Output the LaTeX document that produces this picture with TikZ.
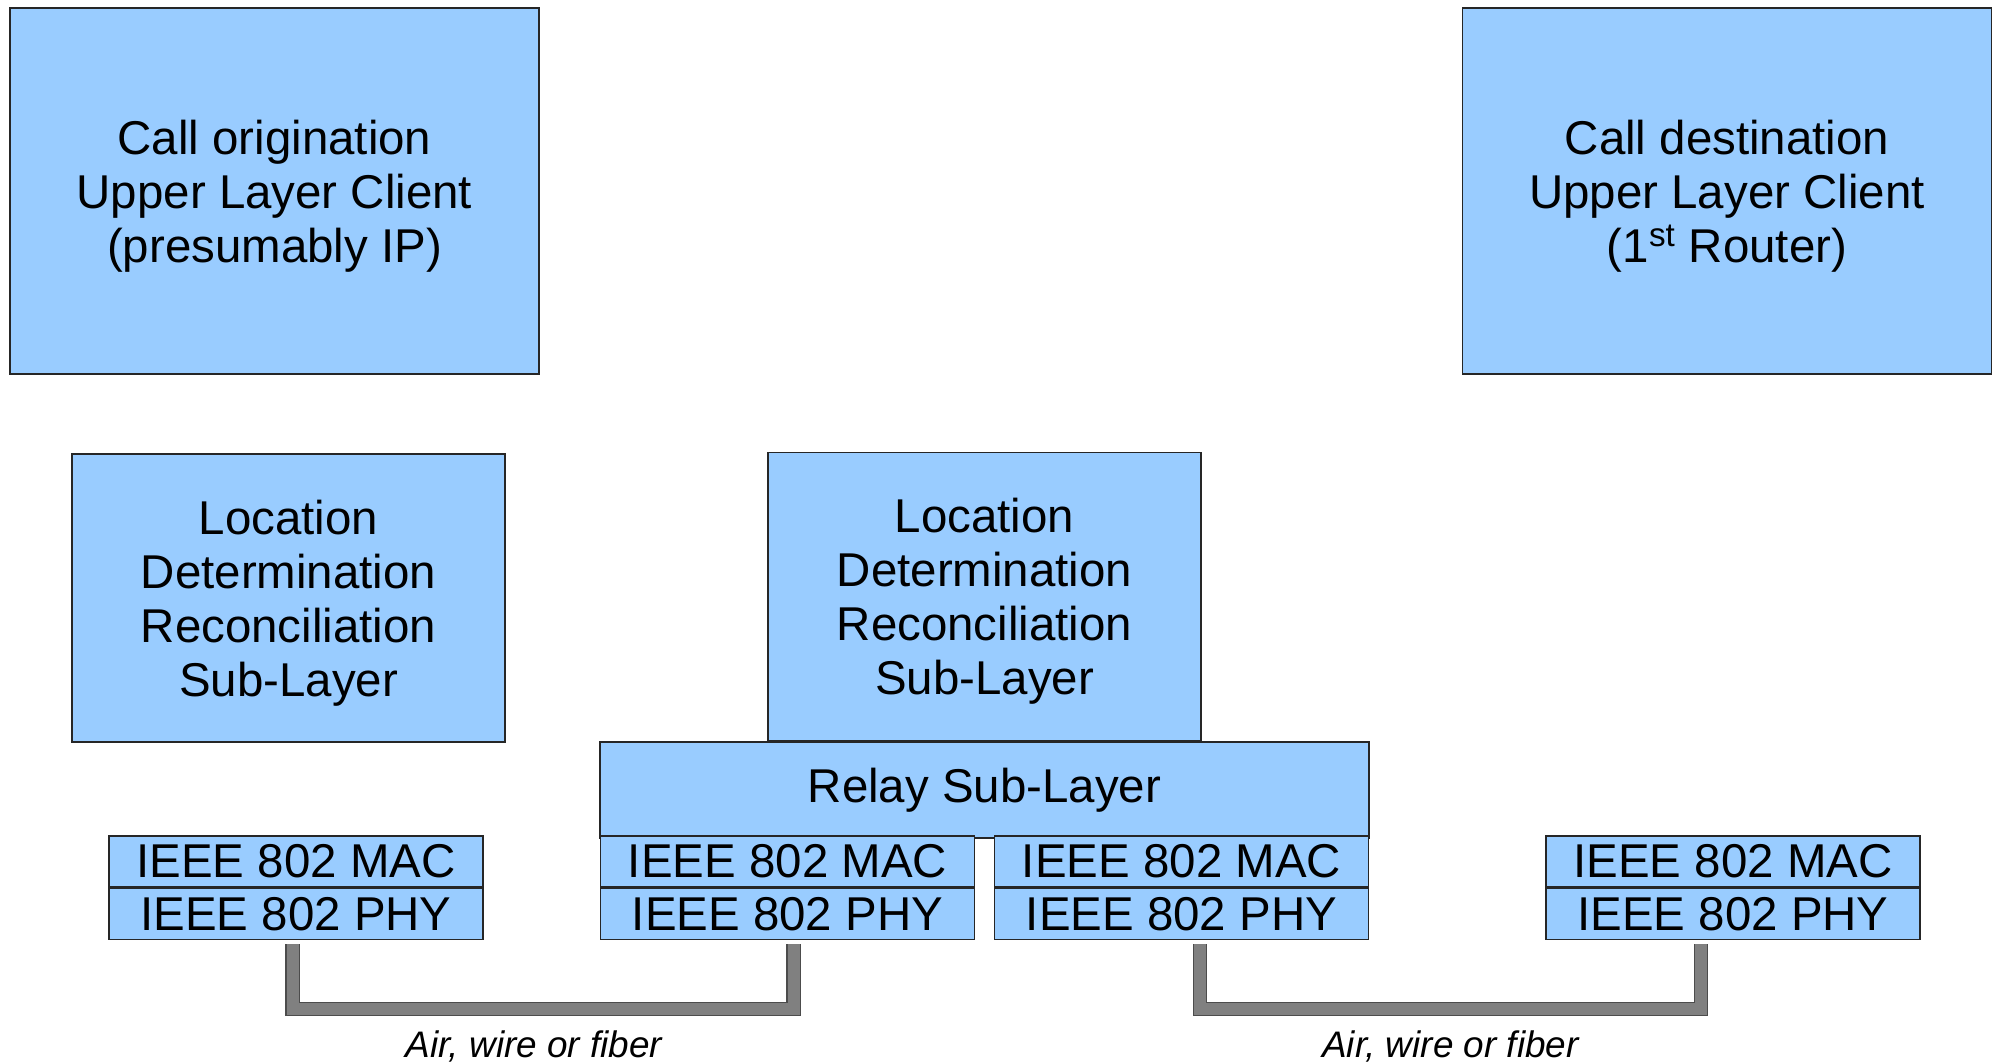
\documentclass[tikz,border=0pt]{standalone}
\usepackage{fontspec}
\setmainfont{Liberation Sans}
\usepackage{xcolor}
\usepackage{tikz}
\usetikzlibrary{arrows.meta,positioning,calc}
\definecolor{layerblue}{RGB}{153,204,255}
\definecolor{cablegray}{RGB}{128,128,128}

\begin{document}
\begin{tikzpicture}[
        box/.style={draw=black!85, line width=0.8pt, fill=layerblue, align=center,
                    inner sep=2pt, font=\fontsize{27}{30.7}\selectfont},
        bigbox/.style={box, minimum width=10.58cm, minimum height=7.32cm, text depth=0pt},
        subbox/.style={box, minimum width=8.66cm, minimum height=5.76cm, text depth=0pt},
        thinbox/.style={box, minimum width=7.48cm, minimum height=1.02cm},
        cable/.style={draw=black!70, line width=0.6pt, double=cablegray,
                      double distance=0.24cm},
        medium/.style={font=\fontsize{21}{24}\selectfont\itshape, inner sep=0pt},
    ]
    \useasboundingbox (0,0) rectangle (39.9,-21.24);

    % Upper layer clients — top corners
    \node[bigbox] (orig) at (5.49,-3.82) {Call origination\\Upper Layer Client\\(presumably IP)};
    \node[bigbox] (dest) at (34.54,-3.82) {Call destination\\Upper Layer Client\\(1\textsuperscript{st} Router)};

    % Reconciliation sub-layers
    \node[subbox] (ldrsA) at (5.77,-11.96) {Location\\Determination\\Reconciliation\\Sub-Layer};
    \node[box, minimum width=15.38cm, minimum height=1.92cm] (relay) at (19.69,-15.8) {Relay Sub-Layer};
    \node[subbox, above=0pt of relay] (ldrsB) {Location\\Determination\\Reconciliation\\Sub-Layer};

    % MAC / PHY stacks
    \node[thinbox] (macA) at (5.92,-17.23) {IEEE 802 MAC};
    \node[thinbox] (macB) at (15.75,-17.23) {IEEE 802 MAC};
    \node[thinbox] (macC) at (23.63,-17.23) {IEEE 802 MAC};
    \node[thinbox] (macD) at (34.66,-17.23) {IEEE 802 MAC};
    \node[thinbox, below=0pt of macA] (phyA) {IEEE 802 PHY};
    \node[thinbox, below=0pt of macB] (phyB) {IEEE 802 PHY};
    \node[thinbox, below=0pt of macC] (phyC) {IEEE 802 PHY};
    \node[thinbox, below=0pt of macD] (phyD) {IEEE 802 PHY};

    % Links — origination to relay, relay to destination
    \draw[cable] ([xshift=-0.07cm, yshift=-0.08cm]phyA.south) -- ++(0,-1.3)
        -| node[pos=0.25, below=0.42cm, medium, xshift=-0.18cm] (airA) {Air, wire or fiber}
        ([xshift=0.12cm, yshift=-0.08cm]phyB.south);
    \draw[cable] ([xshift=0.37cm, yshift=-0.08cm]phyC.south) -- ++(0,-1.3)
        -| node[pos=0.25, below=0.42cm, medium] (airB) {Air, wire or fiber}
        ([xshift=-0.64cm, yshift=-0.08cm]phyD.south);
\end{tikzpicture}
\end{document}
